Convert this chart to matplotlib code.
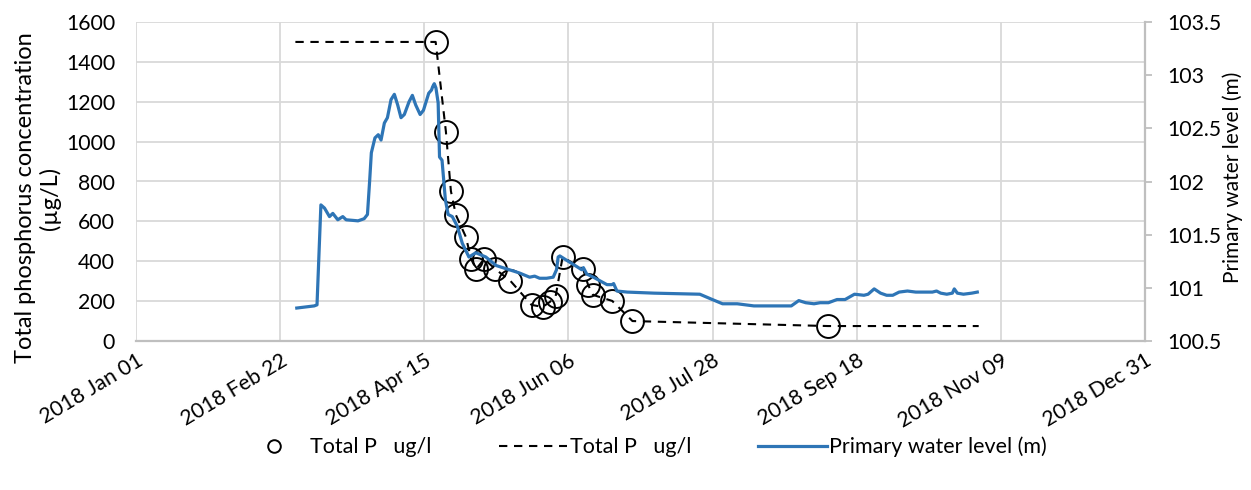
import numpy as np
import matplotlib
matplotlib.use("Agg")
import matplotlib.pyplot as plt
from matplotlib.transforms import ScaledTranslation

plt.rcParams['font.family'] = ['Lato', 'DejaVu Sans']

BASE = np.datetime64('2018-01-01')

# Total P samples (days since 2018-01-01, ug/l)
p_days = [108.1, 111.8, 113.6, 115.4, 119.0, 120.9, 122.7, 125.6, 129.6, 135.1,
          142.7, 146.7, 149.3, 151.4, 153.9, 161.3, 163.1, 164.9, 171.8, 179.1, 249.7]
p_vals = [1500, 1050, 752, 632, 522, 411, 361, 411, 361, 301,
          181, 171, 196, 226, 421, 361, 281, 231, 201, 100, 75]

# Dashed line extends before first and after last sample
line_days = [57.5] + p_days + [304.0]
line_vals = [1500] + p_vals + [75]

# Primary water level (m)
w_days = [58.0, 64.3, 65.3, 66.7, 68.0, 69.8, 71.0, 72.8, 74.6, 75.8, 80.1, 82.3, 83.5,
          84.3, 84.9, 86.2, 87.4, 88.4, 89.6, 90.7, 92.0, 93.2, 94.4, 95.6, 96.8, 98.5,
          99.7, 100.9, 102.5, 103.7, 105.6, 106.6, 107.0, 107.6, 108.2, 109.0, 109.5,
          110.4, 111.6, 112.6, 114.1, 115.9, 117.7, 120.1, 122.6, 126.2, 129.9, 134.7,
          138.3, 142.0, 143.8, 145.6, 148.1, 150.5, 151.7, 152.3, 152.9, 155.3, 159.0,
          160.8, 161.4, 162.6, 165.0, 169.9, 171.7, 172.3, 173.5, 177.2, 186.9, 203.4,
          207.9, 211.6, 216.9, 222.9, 236.4, 239.1, 241.6, 244.6, 246.8, 249.8, 252.9,
          255.8, 259.2, 262.6, 264.1, 266.3, 268.6, 270.8, 273.0, 275.3, 278.3, 281.3,
          287.3, 288.8, 290.3, 292.5, 294.5, 295.2, 296.3, 298.5, 301.5, 303.5]
w_vals = [100.81, 100.83, 100.84, 101.78, 101.75, 101.67, 101.70, 101.64, 101.67, 101.64,
          101.63, 101.65, 101.69, 102.01, 102.27, 102.41, 102.44, 102.39, 102.55, 102.60,
          102.77, 102.82, 102.72, 102.60, 102.63, 102.75, 102.81, 102.72, 102.63, 102.67,
          102.83, 102.86, 102.89, 102.92, 102.88, 102.74, 102.23, 102.20, 101.83, 101.69,
          101.67, 101.58, 101.42, 101.29, 101.33, 101.29, 101.21, 101.17, 101.14, 101.10,
          101.11, 101.09, 101.09, 101.10, 101.17, 101.29, 101.30, 101.26, 101.20, 101.17,
          101.19, 101.13, 101.10, 101.03, 101.03, 101.04, 100.97, 100.96, 100.95, 100.94,
          100.89, 100.85, 100.85, 100.83, 100.83, 100.88, 100.86, 100.85, 100.86, 100.86,
          100.89, 100.89, 100.94, 100.93, 100.94, 100.99, 100.95, 100.93, 100.93, 100.96,
          100.97, 100.96, 100.96, 100.97, 100.95, 100.94, 100.95, 100.99, 100.95, 100.94,
          100.95, 100.96]

tick_dates = ['2018-01-01', '2018-02-22', '2018-04-15', '2018-06-06',
              '2018-07-28', '2018-09-18', '2018-11-09', '2018-12-31']
tick_labels = ['2018 Jan 01', '2018 Feb 22', '2018 Apr 15', '2018 Jun 06',
               '2018 Jul 28', '2018 Sep 18', '2018 Nov 09', '2018 Dec 31']
left_ticks = [0, 200, 400, 600, 800, 1000, 1200, 1400, 1600]
right_ticks = [100.5, 101, 101.5, 102, 102.5, 103, 103.5]
right_tick_labels = ['100.5', '101', '101.5', '102', '102.5', '103', '103.5']


def to_dates(days):
    return BASE + np.round(np.array(days) * 24 * 60).astype('timedelta64[m]')


FS = 15.3
fig = plt.figure(figsize=(12.51, 4.90), dpi=100)
ax = fig.add_axes([136 / 1251, 1 - 341 / 490, 1009 / 1251, 319 / 490])
ax2 = ax.twinx()

grid_c = '#D9D9D9'
ax.set_xlim(np.datetime64('2018-01-01'), np.datetime64('2018-12-31'))
ax.set_ylim(0, 1600)
ax.set_yticks(left_ticks)
ax.set_xticks(np.array(tick_dates, dtype='datetime64[D]'))
ax.set_xticklabels(tick_labels, rotation=31, ha='right', va='top',
                   rotation_mode='anchor', fontsize=FS)
shift = ScaledTranslation(5 / 72, 0, fig.dpi_scale_trans)
for lab in ax.get_xticklabels():
    lab.set_transform(lab.get_transform() + shift)
ax.tick_params(axis='y', length=0, labelsize=FS, pad=15)
ax.tick_params(axis='x', length=0, pad=7)
ax.grid(True, color=grid_c, linewidth=1.3)
ax.set_axisbelow(True)
for s in ['top', 'left', 'right']:
    ax.spines[s].set_visible(False)
ax.spines['bottom'].set_color('#BFBFBF')
ax.spines['bottom'].set_linewidth(1.6)

l_dash, = ax.plot(to_dates(line_days), line_vals, color='black', linestyle=(0, (4, 3.2)),
                  linewidth=1.5, zorder=3)
l_circ, = ax.plot(to_dates(p_days), p_vals, linestyle='none', marker='o', markersize=16.5,
                  markerfacecolor='none', markeredgecolor='black', markeredgewidth=1.4,
                  zorder=4)

ax2.set_ylim(100.5, 103.5)
ax2.set_yticks(right_ticks)
ax2.set_yticklabels(right_tick_labels)
ax2.tick_params(axis='y', length=5, width=1.3, color='#BFBFBF', labelsize=FS, pad=11)
for s in ['top', 'left', 'bottom']:
    ax2.spines[s].set_visible(False)
ax2.spines['right'].set_color('#BFBFBF')
ax2.spines['right'].set_linewidth(1.6)
l_blue, = ax2.plot(to_dates(w_days), w_vals, color='#2E75B6', linewidth=2.3, zorder=5)

fig.text(38 / 1251, 1 - 198 / 490, 'Total phosphorus concentration\n(µg/L)',
         rotation=90, ha='center', va='center', multialignment='center',
         fontsize=17, linespacing=1.15)
fig.text(1233 / 1251, 1 - 177 / 490, 'Primary water level (m)',
         rotation=90, ha='center', va='center', fontsize=15)

fig.legend([l_circ, l_dash, l_blue],
           ['Total P   ug/l', 'Total P   ug/l', 'Primary water level (m)'],
           loc='center', bbox_to_anchor=(643 / 1251, 1 - 447 / 490), ncol=3, frameon=False,
           fontsize=15.5, markerscale=0.55, handlelength=3.2, columnspacing=3.1,
           handletextpad=0.1)

fig.savefig('out.png', dpi=100)
